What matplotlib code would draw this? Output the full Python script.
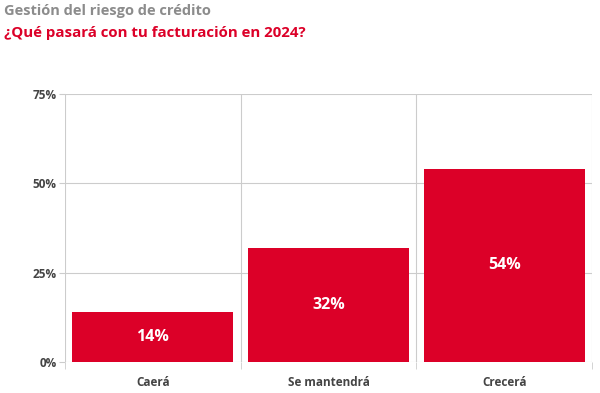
import matplotlib
matplotlib.use("Agg")
from matplotlib import pyplot as plt
from matplotlib.ticker import FixedLocator

categories = ['Caerá', 'Se mantendrá', 'Crecerá']
values = [14, 32, 54]
yticks = [0, 25, 50, 75]

red = '#DC0028'
grid_col = '#CCCCCC'
text_col = '#444444'

plt.rcParams['font.family'] = ['Open Sans', 'DejaVu Sans']

fig = plt.figure(figsize=(6, 3.93), dpi=100)
ax = fig.add_axes([0.108, 0.079, 0.879, 0.682])

x = range(len(categories))
bars = ax.bar(x, values, width=0.915, color=red, zorder=3)
for b, v in zip(bars, values):
    ax.text(b.get_x() + b.get_width() / 2, v / 2, f'{v}%', ha='center', va='center',
            color='white', fontsize=11.5, fontweight='bold', zorder=4)

ax.set_xlim(-0.5, len(categories) - 0.5)
ax.set_ylim(0, 75)
ax.set_yticks(yticks)
ax.set_yticklabels([f'{t}%' for t in yticks])
ax.set_xticks(list(x))
ax.set_xticklabels(categories)
ax.xaxis.set_minor_locator(FixedLocator([i + 0.5 for i in range(-1, len(categories))]))

ax.grid(axis='y', color=grid_col, linewidth=0.8, zorder=0)
ax.grid(axis='x', which='minor', color=grid_col, linewidth=0.8, zorder=0)
ax.tick_params(axis='x', which='major', length=0, pad=10, labelsize=8.5, labelcolor=text_col)
ax.tick_params(axis='x', which='minor', length=5, color=grid_col)
ax.tick_params(axis='y', length=4, color=grid_col, labelsize=8.5, labelcolor=text_col, pad=2)
for lab in ax.get_xticklabels() + ax.get_yticklabels():
    lab.set_fontweight('bold')
for s in ax.spines.values():
    s.set_visible(False)

fig.text(0.007, 0.99, 'Gestión del riesgo de crédito', ha='left', va='top',
         fontsize=10.5, fontweight='bold', color='#8C8C8C')
fig.text(0.007, 0.935, '¿Qué pasará con tu facturación en 2024?', ha='left', va='top',
         fontsize=10.8, fontweight='bold', color=red)

fig.savefig('out.png', dpi=100)
